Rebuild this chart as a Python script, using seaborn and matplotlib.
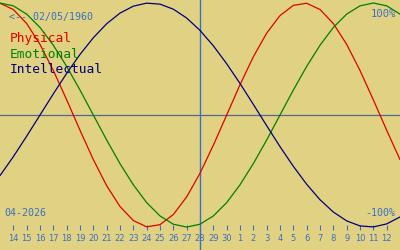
import matplotlib
matplotlib.use("Agg")
import matplotlib.pyplot as plt
import seaborn as sns
import pandas as pd

# ---- data ----
day_labels = ["13", "14", "15", "16", "17", "18", "19", "20", "21", "22", "23", "24",
              "25", "26", "27", "28", "29", "30", "1", "2", "3", "4", "5", "6",
              "7", "8", "9", "10", "11", "12", "13"]
physical = [0.998, 0.942, 0.817, 0.631, 0.398, 0.136, -0.136, -0.398, -0.631, -0.817,
            -0.942, -0.998, -0.979, -0.888, -0.731, -0.520, -0.270, 0.0, 0.270, 0.520,
            0.731, 0.888, 0.979, 0.998, 0.942, 0.817, 0.631, 0.398, 0.136, -0.136, -0.398]
emotional = [1.000, 0.975, 0.901, 0.782, 0.623, 0.434, 0.223, 0.0, -0.223, -0.434,
             -0.623, -0.782, -0.901, -0.975, -1.000, -0.975, -0.901, -0.782, -0.623, -0.434,
             -0.223, 0.0, 0.223, 0.434, 0.623, 0.782, 0.901, 0.975, 1.000, 0.975, 0.901]
intellectual = [-0.541, -0.372, -0.189, 0.0, 0.189, 0.372, 0.541, 0.690, 0.815, 0.910,
                0.972, 0.999, 0.990, 0.945, 0.866, 0.756, 0.618, 0.458, 0.282, 0.095,
                -0.095, -0.282, -0.458, -0.618, -0.756, -0.866, -0.945, -0.990, -0.999, -0.972, -0.910]
series_names = ["Physical", "Emotional", "Intellectual"]
today_index = 15          # 28 (center marker)
birth_label = "<-- 02/05/1960"
month_label = "04-2026"
top_label = "100%"
bottom_label = "-100%"

# ---- styling ----
BG = "#e0d282"
BLUE = "#3a6fc6"
HLINE = "#4e6a8c"
COLORS = {"Physical": "#e00000", "Emotional": "#008000", "Intellectual": "#000080"}

sns.set_style("white")
plt.rcParams["font.family"] = ["DejaVu Sans Mono", "DejaVu Sans"]

idx = list(range(len(day_labels)))
df = pd.DataFrame({
    "idx": idx * 3,
    "value": physical + emotional + intellectual,
    "series": sum([[n] * len(idx) for n in series_names], []),
})

fig = plt.figure(figsize=(4, 2.5), dpi=100)
fig.patch.set_facecolor(BG)
ax = fig.add_axes([0, 0, 1, 1])
ax.set_facecolor(BG)

ax.axhline(0, color=HLINE, lw=0.9, zorder=1)
ax.axvline(today_index, color=BLUE, lw=1.0, zorder=1)

sns.lineplot(data=df, x="idx", y="value", hue="series", hue_order=series_names,
             palette=COLORS, linewidth=0.9, legend=False, ax=ax, zorder=3)

ax.set_xlim(0, len(day_labels) - 1)
ax.set_ylim(-1.205, 1.027)
ax.set_xlabel("")
ax.set_ylabel("")

for s in ["top", "left", "right"]:
    ax.spines[s].set_visible(False)
ax.spines["bottom"].set_position(("axes", 0.08))
ax.spines["bottom"].set_visible(False)

tick_pos = idx[1:-1]
ax.set_xticks(tick_pos)
ax.set_xticklabels(day_labels[1:-1])
ax.tick_params(axis="x", bottom=True, direction="in", length=3.6, width=0.8, color=BLUE,
               labelcolor=BLUE, labelsize=6.0, pad=2.8)
for lab in ax.get_xticklabels():
    lab.set_family(["DejaVu Sans"])
ax.set_yticks([])

def ypx(p):
    return 1 - p / 250.0

fig.text(9 / 400, ypx(20), birth_label, color=BLUE, fontsize=7.2, va="baseline", ha="left")
fig.text(10 / 400, ypx(42.3), series_names[0], color=COLORS["Physical"], fontsize=9.3, va="baseline")
fig.text(10 / 400, ypx(57.5), series_names[1], color=COLORS["Emotional"], fontsize=9.3, va="baseline")
fig.text(10 / 400, ypx(72.7), series_names[2], color=COLORS["Intellectual"], fontsize=9.3, va="baseline")
fig.text(4 / 400, ypx(216), month_label, color=BLUE, fontsize=7.2, va="baseline")
fig.text(396 / 400, ypx(16.7), top_label, color=BLUE, fontsize=7.6, va="baseline", ha="right")
fig.text(395 / 400, ypx(216), bottom_label, color=BLUE, fontsize=7.2, va="baseline", ha="right")

fig.savefig("out.png", dpi=100, facecolor=BG)
